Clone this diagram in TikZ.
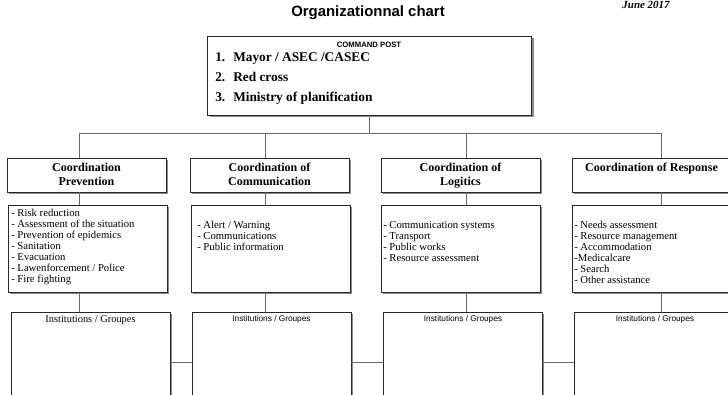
\documentclass[tikz,border=0pt]{standalone}
\usepackage{fontspec}
\setmainfont{Liberation Serif}
\setsansfont{Liberation Sans}
\usetikzlibrary{shadows}

\tikzset{
  box/.style={draw=black!85, fill=white, line width=0.6pt, inner sep=0pt,
    drop shadow={shadow xshift=1.8pt, shadow yshift=-1.8pt, fill=black!45, opacity=1}},
  cmdbox/.style={box, minimum width=243pt, minimum height=59.25pt},
  hdrbox/.style={box, minimum width=119.25pt, minimum height=25.5pt},
  lstbox/.style={box, minimum width=119.25pt, minimum height=65.25pt},
  instbox/.style={box, minimum width=119.25pt, minimum height=75pt},
  hdrtext/.style={anchor=north, inner sep=0pt, align=center, font=\bfseries\fontsize{9}{10.5}\selectfont},
  lsttext/.style={anchor=north west, inner sep=0pt, align=left, font=\fontsize{8}{8.25}\selectfont},
  insttext/.style={inner sep=0pt, font=\sffamily\fontsize{6.2}{7}\selectfont},
  link/.style={draw=black!60, line width=0.6pt},
}

\begin{document}
\begin{tikzpicture}[x=0.75pt,y=0.75pt,yscale=-1,xscale=1]
\useasboundingbox (0,0) rectangle (728,394);

% Text Node
\node[inner sep=0pt, font=\sffamily\bfseries\fontsize{11.2}{13}\selectfont] (title) at (368,13) {Organizationnal chart};
% Text Node
\node[inner sep=0pt, font=\bfseries\itshape\fontsize{8.2}{10}\selectfont] (date) at (646,5) {June 2017};

%Shape: Rectangle [command post]
\node[cmdbox] (cmd) at (369.5,75.5) {};
% Text Node
\node[inner sep=0pt, font=\sffamily\bfseries\fontsize{5.8}{7}\selectfont] (cmdtitle) at (369,45) {COMMAND POST};
% Text Node
\node[anchor=north west, inner sep=0pt, align=left, font=\bfseries\fontsize{10}{15}\selectfont] (cmdlist) at (215,52)
  {\makebox[13.5pt][l]{1.}Mayor / ASEC /CASEC\\
   \makebox[13.5pt][l]{2.}Red cross\\
   \makebox[13.5pt][l]{3.}Ministry of planification};

%Shape: Rectangle [coordination boxes]
\node[hdrbox] (hdr1) at (86.5,175) {};
\node[hdrbox] (hdr2) at (269.5,175) {};
\node[hdrbox] (hdr3) at (460.5,175) {};
\node[hdrbox] (hdr4) at (651.5,175) {};
% Text Node
\node[hdrtext] (hdr1t) at (86.5,163) {Coordination\\Prevention};
\node[hdrtext] (hdr2t) at (269.5,163) {Coordination of\\Communication};
\node[hdrtext] (hdr3t) at (460.5,163) {Coordination of\\Logitics};
\node[hdrtext] (hdr4t) at (651.5,163) {Coordination of Response};

%Shape: Rectangle [task lists]
\node[lstbox] (lst1) at (87.5,248.5) {};
\node[lstbox] (lst2) at (270.5,248.5) {};
\node[lstbox] (lst3) at (460.5,248.5) {};
\node[lstbox] (lst4) at (651.5,248.5) {};
% Text Node
\node[lsttext] (lst1t) at (11,208.7) {- Risk reduction\\- Assessment of the situation\\- Prevention of epidemics\\- Sanitation\\- Evacuation\\- Lawenforcement / Police\\- Fire fighting};
\node[lsttext] (lst2t) at (197,220.7) {- Alert / Warning\\- Communications\\- Public information};
\node[lsttext] (lst3t) at (383,220.7) {- Communication systems\\- Transport\\- Public works\\- Resource assessment};
\node[lsttext] (lst4t) at (574,220.7) {- Needs assessment\\- Resource management\\- Accommodation\\-Medicalcare\\- Search\\- Other assistance};

%Shape: Rectangle [institutions]
\node[instbox] (inst1) at (90.5,362) {};
\node[instbox] (inst2) at (271.5,362) {};
\node[instbox] (inst3) at (462.5,362) {};
\node[instbox] (inst4) at (653.5,362) {};
% Text Node
\node[insttext, font=\rmfamily\fontsize{7.8}{9}\selectfont] (inst1t) at (90.5,320) {Institutions / Groupes};
\node[insttext] (inst2t) at (271.5,319) {Institutions / Groupes};
\node[insttext] (inst3t) at (463,319) {Institutions / Groupes};
\node[insttext] (inst4t) at (655,319) {Institutions / Groupes};

%Straight Lines
\coordinate (b1) at (79,133);
\coordinate (b2) at (265,133);
\coordinate (b3) at (466,133);
\coordinate (b4) at (661,133);
\draw[link] (cmd.south) -- (cmd.south |- b1);
\draw[link] (b1) -- (b4);
\draw[link] (b1) -- (b1 |- hdr1.north);
\draw[link] (b2) -- (b2 |- hdr2.north);
\draw[link] (b3) -- (b3 |- hdr3.north);
\draw[link] (b4) -- (b4 |- hdr4.north);
\draw[link] (b1 |- hdr1.south) -- (b1 |- lst1.north);
\draw[link] (b2 |- hdr2.south) -- (b2 |- lst2.north);
\draw[link] (b3 |- hdr3.south) -- (b3 |- lst3.north);
\draw[link] (b4 |- hdr4.south) -- (b4 |- lst4.north);
\draw[link] (b1 |- lst1.south) -- (b1 |- inst1.north);
\draw[link] (b2 |- lst2.south) -- (b2 |- inst2.north);
\draw[link] (b3 |- lst3.south) -- (b3 |- inst3.north);
\draw[link] (b4 |- lst4.south) -- (b4 |- inst4.north);
\draw[link] (inst1.east) -- (inst2.west);
\draw[link] (inst2.east) -- (inst3.west);
\draw[link] (inst3.east) -- (inst4.west);

\end{tikzpicture}
\end{document}
